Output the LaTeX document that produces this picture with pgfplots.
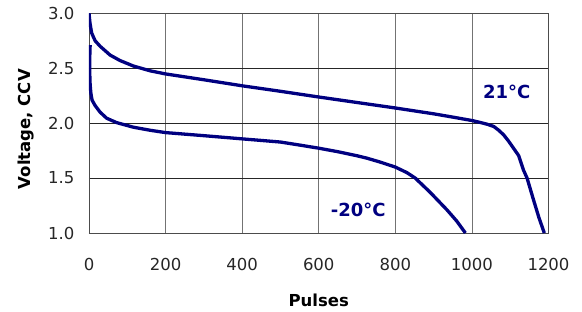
\documentclass[border=0pt]{standalone}
\usepackage{pgfplots}
\pgfplotsset{compat=1.18}
\usepackage{fontspec}
\setmainfont{DejaVu Sans}
\definecolor{navy}{RGB}{0,0,128}
\begin{document}
\begin{tikzpicture}
\path[use as bounding box] (-89bp,-79bp) rectangle (493bp,233bp);
\begin{axis}[
  at={(0,0)}, anchor=south west,
  scale only axis, width=459.5bp, height=219.7bp,
  xmin=0, xmax=1200, ymin=1, ymax=3,
  xtick={0,200,...,1200}, ytick={1.0,1.5,2.0,2.5,3.0},
  /pgf/number format/1000 sep={},
  y tick label style={/pgf/number format/fixed, /pgf/number format/fixed zerofill, /pgf/number format/precision=1},
  /pgf/number format/assume math mode=true,
  ticklabel style={font=\fontsize{16.5bp}{19bp}\selectfont, text=black!85},
  xticklabel style={yshift=-22bp},
  yticklabel style={xshift=-11bp},
  major tick length=0pt,
  grid=major,
  x grid style={black!55, line width=0.8bp},
  y grid style={black!85, line width=0.8bp},
  axis line style={black!70, line width=0.8bp},
  xlabel={\bfseries Pulses},
  ylabel={\bfseries Voltage, CCV},
  label style={font=\fontsize{16.5bp}{19bp}\selectfont},
  xlabel style={at={(axis description cs:0.5,-0.3355)}, anchor=base},
  ylabel style={at={(axis description cs:-0.1269,0.473)}, anchor=base},
]
\addplot[navy, line width=3.3bp, line join=round] coordinates {
(0,3.00) (2.6,2.91) (7,2.82) (16,2.75) (29,2.70) (55,2.62) (81,2.57) (116,2.52)
(160,2.476) (200,2.448) (300,2.395) (400,2.34) (500,2.29) (600,2.238) (700,2.188)
(800,2.138) (900,2.085) (950,2.055) (1000,2.024) (1022,2.006) (1040,1.99)
(1057,1.97) (1070,1.935) (1083,1.893) (1096,1.835) (1109,1.77) (1122,1.705)
(1135,1.57) (1144,1.50) (1161,1.30) (1175,1.14) (1189,1.0)
};
\addplot[navy, line width=3.3bp, line join=round] coordinates {
(3,2.71) (2,2.60) (2,2.45) (3,2.35) (5,2.27) (8,2.21) (16,2.16) (29,2.10)
(46,2.045) (72,2.005) (116,1.963) (160,1.935) (200,1.914) (300,1.886)
(400,1.857) (500,1.828) (551,1.80) (600,1.772) (650,1.74) (700,1.703) (725,1.682)
(761,1.645) (800,1.60) (830,1.55) (852,1.50) (891,1.37) (935,1.21)
(960,1.11) (983,1.0)
};
\node[text=navy, font=\fontsize{18bp}{20bp}\selectfont\bfseries] at (axis cs:1091,2.285) {21°C};
\node[text=navy, font=\fontsize{18bp}{20bp}\selectfont\bfseries] at (axis cs:703,1.21) {-20°C};
\end{axis}
\end{tikzpicture}
\end{document}
